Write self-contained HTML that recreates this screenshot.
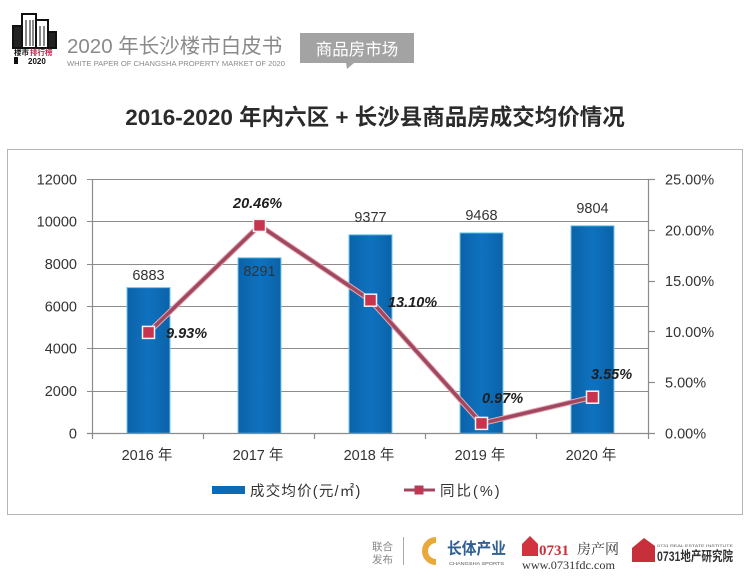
<!DOCTYPE html>
<html><head><meta charset="utf-8"><style>
html,body{margin:0;padding:0;background:#fff;}
svg{display:block;}
text{font-family:"Liberation Sans","Noto Sans CJK SC",sans-serif;}
</style></head><body>
<svg width="750" height="583" viewBox="0 0 750 583" xmlns="http://www.w3.org/2000/svg">
<defs>
<linearGradient id="bg" x1="0" y1="0" x2="1" y2="0">
<stop offset="0" stop-color="#0b62a8"/><stop offset="0.5" stop-color="#0f72bf"/><stop offset="1" stop-color="#0b62a8"/>
</linearGradient>
</defs>
<rect width="750" height="583" fill="#fff"/>
<!-- header logo -->
<g fill="none" stroke="#111" stroke-width="2">
<rect x="13" y="26" width="9" height="22" fill="#222"/>
<rect x="22" y="14" width="14" height="34"/>
<rect x="36" y="20" width="12" height="28"/>
<rect x="48" y="32" width="8" height="16" fill="#222"/>
</g>
<g stroke="#111" stroke-width="1">
<line x1="26" y1="20" x2="26" y2="46"/><line x1="30" y1="20" x2="30" y2="46"/><line x1="33" y1="20" x2="33" y2="46"/>
<line x1="40" y1="26" x2="40" y2="46"/><line x1="44" y1="26" x2="44" y2="46"/>
</g>
<text x="14" y="55" font-size="7.5" font-weight="bold" fill="#111">楼市</text>
<text x="30" y="55" font-size="7.5" font-weight="bold" fill="#c0264e">排行榜</text>
<rect x="14" y="57" width="4" height="7" fill="#111"/>
<text x="28" y="64" font-size="8" font-weight="bold" fill="#111">2020</text>
<text x="67" y="53" font-size="20.5" fill="#8a8a8a">2020 年长沙楼市白皮书</text>
<text x="67" y="66" font-size="7" fill="#8a8a8a" textLength="218" lengthAdjust="spacingAndGlyphs">WHITE PAPER OF CHANGSHA PROPERTY MARKET OF 2020</text>
<path d="M300 33 H414 V63 H354 L347 69 L346 63 H300 Z" fill="#a3a3a3"/>
<text x="357" y="55" font-size="16.5" fill="#fff" text-anchor="middle">商品房市场</text>
<!-- title -->
<text x="375" y="125" font-size="22.5" font-weight="bold" fill="#2b2b2b" text-anchor="middle">2016-2020 年内六区 + 长沙县商品房成交均价情况</text>
<!-- chart box -->
<rect x="7.5" y="149.5" width="735" height="365" fill="none" stroke="#b5b5b5" stroke-width="1"/>
<!-- gridlines -->
<g stroke="#8c8c8c" stroke-width="1">
<line x1="87" y1="179.5" x2="648" y2="179.5"/>
<line x1="87" y1="221.5" x2="648" y2="221.5"/>
<line x1="87" y1="264.5" x2="648" y2="264.5"/>
<line x1="87" y1="306.5" x2="648" y2="306.5"/>
<line x1="87" y1="348.5" x2="648" y2="348.5"/>
<line x1="87" y1="391.5" x2="648" y2="391.5"/>
</g>
<!-- bars -->
<g fill="url(#bg)" stroke="#6cc7ee" stroke-width="1">
<rect x="127" y="287.6" width="43" height="145.7"/>
<rect x="238" y="257.8" width="43" height="175.5"/>
<rect x="349" y="234.8" width="43" height="198.5"/>
<rect x="460" y="232.9" width="43" height="200.4"/>
<rect x="571" y="225.8" width="43" height="207.5"/>
</g>
<!-- axes -->
<g stroke="#8c8c8c" stroke-width="1.2">
<line x1="92.5" y1="179" x2="92.5" y2="434"/>
<line x1="648.5" y1="179" x2="648.5" y2="434"/>
<line x1="87" y1="433.5" x2="655" y2="433.5"/>
<line x1="648" y1="179.5" x2="655" y2="179.5"/>
<line x1="648" y1="230.5" x2="655" y2="230.5"/>
<line x1="648" y1="281.5" x2="655" y2="281.5"/>
<line x1="648" y1="331.5" x2="655" y2="331.5"/>
<line x1="648" y1="382.5" x2="655" y2="382.5"/>
<line x1="92.5" y1="433" x2="92.5" y2="439"/>
<line x1="203.5" y1="433" x2="203.5" y2="439"/>
<line x1="314.5" y1="433" x2="314.5" y2="439"/>
<line x1="425.5" y1="433" x2="425.5" y2="439"/>
<line x1="536.5" y1="433" x2="536.5" y2="439"/>
<line x1="648.5" y1="433" x2="648.5" y2="439"/>
</g>
<!-- left labels -->
<g font-size="14.5" fill="#333" text-anchor="end">
<text x="77" y="184.5">12000</text>
<text x="77" y="226.5">10000</text>
<text x="77" y="269">8000</text>
<text x="77" y="311.5">6000</text>
<text x="77" y="353.5">4000</text>
<text x="77" y="396">2000</text>
<text x="77" y="438.5">0</text>
</g>
<!-- right labels -->
<g font-size="14.5" fill="#333">
<text x="665" y="184.5">25.00%</text>
<text x="665" y="235.5">20.00%</text>
<text x="665" y="286">15.00%</text>
<text x="665" y="337">10.00%</text>
<text x="665" y="387.5">5.00%</text>
<text x="665" y="438.5">0.00%</text>
</g>
<!-- x labels -->
<g font-size="14.5" fill="#333" text-anchor="middle">
<text x="147" y="460">2016 年</text>
<text x="258" y="460">2017 年</text>
<text x="369" y="460">2018 年</text>
<text x="480" y="460">2019 年</text>
<text x="591" y="460">2020 年</text>
</g>
<!-- bar value labels -->
<g font-size="14.5" fill="#333" text-anchor="middle">
<text x="148.5" y="280">6883</text>
<text x="259.5" y="276">8291</text>
<text x="370.5" y="222">9377</text>
<text x="481.5" y="220">9468</text>
<text x="592.5" y="213">9804</text>
</g>
<!-- line -->
<polyline points="148.5,332.4 259.5,225.4 370.5,300.2 481.5,423.4 592.5,397.2" fill="none" stroke="#e6a9b3" stroke-width="5.5" stroke-linejoin="miter"/>
<polyline points="148.5,332.4 259.5,225.4 370.5,300.2 481.5,423.4 592.5,397.2" fill="none" stroke="#a04860" stroke-width="3.5" stroke-linejoin="miter"/>
<g fill="#c8344e" stroke="#f3f3f8" stroke-width="1.5">
<rect x="142.5" y="326.4" width="12" height="12"/>
<rect x="253.5" y="219.4" width="12" height="12"/>
<rect x="364.5" y="294.2" width="12" height="12"/>
<rect x="475.5" y="417.4" width="12" height="12"/>
<rect x="586.5" y="391.2" width="12" height="12"/>
</g>
<!-- pct labels -->
<g font-size="14.5" font-weight="bold" font-style="italic" fill="#1e1e1e">
<text x="166" y="338">9.93%</text>
<text x="233" y="208">20.46%</text>
<text x="388" y="307">13.10%</text>
<text x="482" y="403">0.97%</text>
<text x="591" y="379">3.55%</text>
</g>
<!-- legend -->
<rect x="212" y="486" width="33" height="8" fill="#0d6bb6"/>
<text x="250" y="496" font-size="14.5" fill="#333" letter-spacing="1.2">成交均价(元/㎡)</text>
<line x1="404" y1="490" x2="435" y2="490" stroke="#a04860" stroke-width="3"/>
<rect x="415" y="486" width="8" height="8" fill="#c8344e" stroke="#a04860" stroke-width="1"/>
<text x="440" y="496" font-size="14.5" fill="#333" letter-spacing="2">同比(%)</text>
<!-- footer -->
<text x="372" y="550" font-size="10.5" fill="#888">联合</text>
<text x="372" y="563" font-size="10.5" fill="#888">发布</text>
<line x1="403.5" y1="537" x2="403.5" y2="565" stroke="#aaa" stroke-width="1"/>
<path d="M436 540 A11 11 0 1 0 436 562" fill="none" stroke="#e8a93a" stroke-width="6"/>
<text x="447" y="554" font-size="16" font-weight="bold" fill="#2f5f93" textLength="59" lengthAdjust="spacingAndGlyphs">长体产业</text>
<text x="449" y="565" font-size="4.5" fill="#555" textLength="55" lengthAdjust="spacingAndGlyphs">CHANGSHA SPORTS</text>
<path d="M522 544 L530 536 L538 544 V556 H522 Z" fill="#d2343f"/>
<text x="539" y="555" font-size="15" font-weight="bold" fill="#c9303c" style="font-family:'Liberation Serif',serif">0731</text>
<text x="577" y="554" font-size="14" fill="#333" style="font-family:'Liberation Serif','Noto Serif CJK SC',serif">房产网</text>
<text x="522" y="569" font-size="12" fill="#333" style="font-family:'Liberation Serif',serif" textLength="93" lengthAdjust="spacingAndGlyphs">www.0731fdc.com</text>
<path d="M632 548 L644 538 L655 546 V562 H632 Z" fill="#c7303b"/>
<text x="657" y="547" font-size="4" fill="#555" textLength="76" lengthAdjust="spacingAndGlyphs">0731 REAL ESTATE INSTITUTE</text>
<text x="657" y="561" font-size="13.5" font-weight="bold" fill="#333" textLength="76" lengthAdjust="spacingAndGlyphs">0731地产研究院</text>
</svg>
</body></html>
